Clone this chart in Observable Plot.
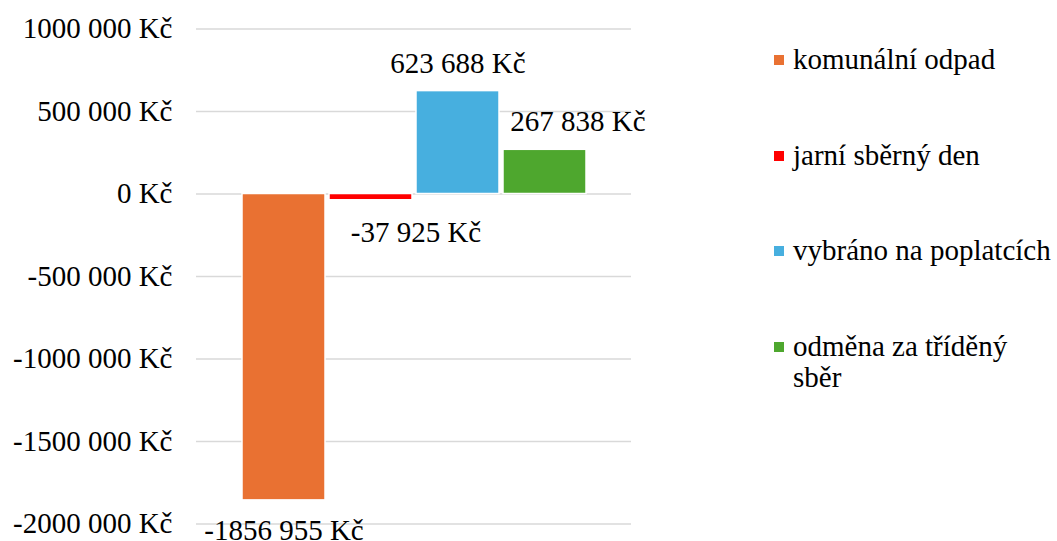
<!DOCTYPE html>
<html><head><meta charset="utf-8">
<script src="https://cdn.jsdelivr.net/npm/d3@7"></script>
<script src="https://cdn.jsdelivr.net/npm/@observablehq/plot@0.6"></script>
<style>
 .a { font-family: 'Liberation Serif'; }
 body { margin:0; font-size:29px; }
 #wrap { position: relative; width: 1057px; height: 541px; }
 #legend { position: absolute; left: 774px; top: 44px; width: 283px; }
 .item { display: flex; align-items: flex-start; line-height: 31px; color: #000; margin-bottom: 64.5px; }
 .sw { width: 10px; height: 10px; flex: none; margin-top: 11px; margin-right: 9px; }
 .lbl { width: 262px; }
</style>
</head><body>
<div id="wrap" class="a"><div id="chart" class="a"></div><div id="legend" class="a"></div></div>
<script>
const series = ["komunální odpad", "jarní sběrný den", "vybráno na poplatcích", "odměna za tříděný sběr"];
const values = [-1856955, -37925, 623688, 267838];
const colors = ["#E97132", "#FF0000", "#47AFDF", "#4EA72E"];
const yTicks = [-2000000, -1500000, -1000000, -500000, 0, 500000, 1000000];

function fmt(v) {
  if (v === 0) return "0 Kč";
  const sign = v < 0 ? "-" : "";
  const a = Math.abs(v);
  const hi = Math.floor(a / 1000);
  const lo = String(a % 1000).padStart(3, "0");
  return sign + (hi > 0 ? hi + " " + lo : String(a % 1000)) + " Kč";
}

const data = series.map((s, i) => ({s, v: values[i]}));
const labelOffsets = [
  {dx: 0, dy: 30},
  {dx: 45, dy: 32.5},
  {dx: 0, dy: -27.5},
  {dx: 33, dy: -28}
];

function render() {
  const textMarks = data.map((d, i) => Plot.text([d], {
    x: "s", y: "v", text: r => fmt(r.v),
    fontSize: 29, fill: "#000", lineAnchor: "middle",
    dx: labelOffsets[i].dx, dy: labelOffsets[i].dy
  }));
  const chart = Plot.plot({
    width: 1057,
    height: 541,
    marginLeft: 196,
    marginRight: 426,
    marginTop: 28.5,
    marginBottom: 17.5,
    style: {fontFamily: "Liberation Serif", fontSize: "29px"},
    x: {domain: series, paddingInner: 0.046, paddingOuter: 0.523, axis: null},
    y: {domain: [-2000000, 1000000], axis: null},
    color: {domain: series, range: colors},
    marks: [
      Plot.gridY(yTicks, {stroke: "#D9D9D9", strokeOpacity: 1, strokeWidth: 1.5}),
      Plot.axisY(yTicks, {tickSize: 0, tickPadding: 24, tickFormat: fmt, fontSize: 29, fill: "#000", label: null}),
      Plot.barY(data, {x: "s", y: "v", fill: "s", stroke: "white", strokeWidth: 1.5}),
      ...textMarks
    ]
  });
  const host = document.getElementById("chart");
  host.innerHTML = "";
  host.appendChild(chart);

  const legend = document.getElementById("legend");
  legend.innerHTML = "";
  series.forEach((s, i) => {
    const it = document.createElement("div");
    it.className = "item a";
    const sw = document.createElement("div");
    sw.className = "sw";
    sw.style.background = colors[i];
    const lb = document.createElement("div");
    lb.className = "lbl a";
    lb.textContent = s;
    it.appendChild(sw);
    it.appendChild(lb);
    legend.appendChild(it);
  });
}
render();
if (document.fonts && document.fonts.ready) document.fonts.ready.then(render);
</script>
</body></html>
